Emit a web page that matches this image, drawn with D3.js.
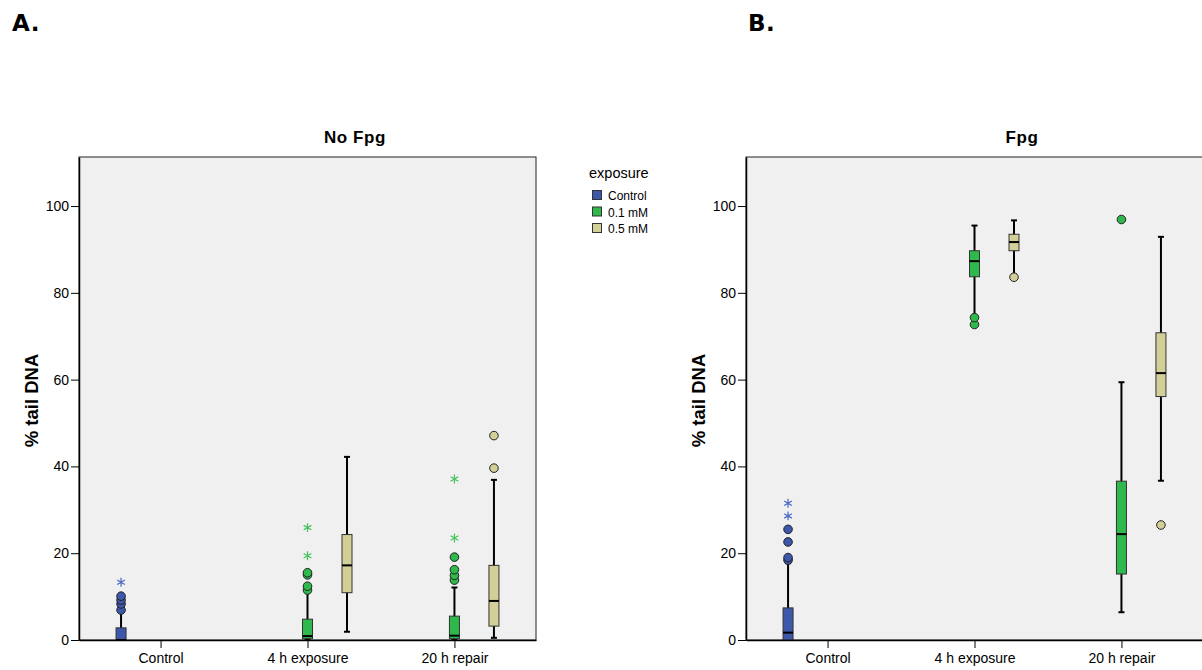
<!DOCTYPE html>
<html>
<head>
<meta charset="utf-8">
<script src="https://cdn.jsdelivr.net/npm/d3@7"></script>
<style>
  body { margin: 0; background: #fff; }
  svg { display: block; font-family: "Liberation Sans", Arial, sans-serif; }
  .tick text { font-size: 14px; fill: #000; }
</style>
</head>
<body>
<svg id="chart" width="1202" height="670"></svg>
<script>
const categories = ["Control", "4 h exposure", "20 h repair"];
const groups = ["Control", "0.1 mM", "0.5 mM"];
const groupColors = ["#3d58ab", "#2fb84b", "#d3cf99"];
const starColors = ["#4a67c4", "#44c25a", "#c9c58a"];
const yTicks = [0, 20, 40, 60, 80, 100];

// stats: [low whisker, Q1, median, Q3, high whisker]
const noFpgStats = [
  { cat: "Control", group: "Control", stats: [0, 0, 0, 2.8, 6.8] },
  { cat: "4 h exposure", group: "0.1 mM", stats: [0, 0.3, 0.9, 4.8, 11.2] },
  { cat: "4 h exposure", group: "0.5 mM", stats: [1.9, 10.9, 17.2, 24.3, 42.2] },
  { cat: "20 h repair", group: "0.1 mM", stats: [0, 0.3, 1.0, 5.5, 12.1] },
  { cat: "20 h repair", group: "0.5 mM", stats: [0.5, 3.2, 9.0, 17.2, 36.9] }
];
const noFpgOutliers = [
  { cat: "Control", group: "Control", values: [6.9, 8.3, 9.2, 10.1] },
  { cat: "4 h exposure", group: "0.1 mM", values: [11.5, 12.4, 15.0, 15.5] },
  { cat: "20 h repair", group: "0.1 mM", values: [13.8, 14.9, 16.2, 19.1] },
  { cat: "20 h repair", group: "0.5 mM", values: [39.6, 47.1] }
];
const noFpgExtremes = [
  { cat: "Control", group: "Control", values: [13.3] },
  { cat: "4 h exposure", group: "0.1 mM", values: [19.4, 25.9] },
  { cat: "20 h repair", group: "0.1 mM", values: [23.5, 37.1] }
];

const fpgStats = [
  { cat: "Control", group: "Control", stats: [0, 0, 1.7, 7.4, 17.7] },
  { cat: "4 h exposure", group: "0.1 mM", stats: [74.5, 83.7, 87.3, 89.7, 95.5] },
  { cat: "4 h exposure", group: "0.5 mM", stats: [84.2, 89.7, 91.7, 93.5, 96.7] },
  { cat: "20 h repair", group: "0.1 mM", stats: [6.4, 15.2, 24.4, 36.6, 59.4] },
  { cat: "20 h repair", group: "0.5 mM", stats: [36.7, 56.1, 61.5, 70.8, 92.9] }
];
const fpgOutliers = [
  { cat: "Control", group: "Control", values: [18.4, 19.0, 22.6, 25.5] },
  { cat: "4 h exposure", group: "0.1 mM", values: [72.7, 74.3] },
  { cat: "4 h exposure", group: "0.5 mM", values: [83.6] },
  { cat: "20 h repair", group: "0.1 mM", values: [96.9] },
  { cat: "20 h repair", group: "0.5 mM", values: [26.5] }
];
const fpgExtremes = [
  { cat: "Control", group: "Control", values: [28.6, 31.5] }
];

const svg = d3.select("#chart");
const plotW = 457, plotH = 483, plotTop = 157;
const star = d3.symbol().type(d3.symbolAsterisk).size(55);

function panel(left, letterX, letter, title, statsData, outlierData, extremeData) {
  const g = svg.append("g").attr("transform", "translate(" + left + "," + plotTop + ")");

  const x = d3.scalePoint().domain(categories).range([0, plotW]).padding(0.555);
  const xg = d3.scalePoint().domain(groups).range([-39.5, 39.5]);
  const y = d3.scaleLinear().domain([0, 111.3]).range([plotH, 0]);
  const cx = d => x(d.cat) + xg(d.group);
  const col = d => groupColors[groups.indexOf(d.group)];

  g.append("rect")
      .attr("width", plotW).attr("height", plotH)
      .attr("fill", "#f0f0f0")
      .attr("stroke", "#222").attr("stroke-width", 1);

  const boxes = g.selectAll(".box").data(statsData).enter().append("g").attr("class", "box");
  // whiskers
  boxes.append("line")
      .attr("x1", cx).attr("x2", cx)
      .attr("y1", d => y(d.stats[0])).attr("y2", d => y(d.stats[4]))
      .attr("stroke", "#000").attr("stroke-width", 2);
  boxes.filter(d => d.stats[0] < d.stats[1]).append("line")
      .attr("x1", d => cx(d) - 3).attr("x2", d => cx(d) + 3)
      .attr("y1", d => y(d.stats[0])).attr("y2", d => y(d.stats[0]))
      .attr("stroke", "#000").attr("stroke-width", 2);
  boxes.append("line")
      .attr("x1", d => cx(d) - 3).attr("x2", d => cx(d) + 3)
      .attr("y1", d => y(d.stats[4])).attr("y2", d => y(d.stats[4]))
      .attr("stroke", "#000").attr("stroke-width", 2);
  boxes.append("rect")
      .attr("x", d => cx(d) - 5).attr("width", 10)
      .attr("y", d => y(d.stats[3]))
      .attr("height", d => y(d.stats[1]) - y(d.stats[3]))
      .attr("fill", col)
      .attr("stroke", "#333").attr("stroke-width", 1);
  boxes.append("line")
      .attr("x1", d => cx(d) - 5).attr("x2", d => cx(d) + 5)
      .attr("y1", d => y(d.stats[2])).attr("y2", d => y(d.stats[2]))
      .attr("stroke", "#000").attr("stroke-width", 2);

  const outPts = outlierData.flatMap(d => d.values.map(v => ({ cat: d.cat, group: d.group, v })));
  g.selectAll(".outlier").data(outPts).enter().append("circle")
      .attr("class", "outlier")
      .attr("cx", cx).attr("cy", d => y(d.v)).attr("r", 4.3)
      .attr("fill", col)
      .attr("stroke", "#222").attr("stroke-width", 1);

  const extPts = extremeData.flatMap(d => d.values.map(v => ({ cat: d.cat, group: d.group, v })));
  g.selectAll(".extreme").data(extPts).enter().append("path")
      .attr("class", "extreme")
      .attr("transform", d => "translate(" + cx(d) + "," + y(d.v) + ")")
      .attr("d", star)
      .attr("fill", "none")
      .attr("stroke", d => starColors[groups.indexOf(d.group)])
      .attr("stroke-width", 1.2);

  const xa = g.append("g")
      .attr("transform", "translate(0," + plotH + ")")
      .call(d3.axisBottom(x).tickSize(8).tickPadding(5).tickSizeOuter(0))
      .call(a => a.select(".domain").attr("stroke", "#000").attr("stroke-width", 1.5));
  xa.selectAll(".tick line").attr("stroke", "#000");

  const ya = g.append("g")
      .call(d3.axisLeft(y).tickValues(yTicks).tickSize(8).tickPadding(2).tickSizeOuter(0))
      .call(a => a.select(".domain").attr("stroke", "#000").attr("stroke-width", 1.5));
  ya.selectAll(".tick line").attr("stroke", "#000");

  g.append("text")
      .attr("transform", "translate(-41," + (plotH / 2 + 2) + ") rotate(-90)")
      .attr("text-anchor", "middle")
      .style("font-size", "18.5px").style("font-weight", "bold")
      .text("% tail DNA");

  g.append("text")
      .attr("x", 276).attr("y", -14)
      .attr("text-anchor", "middle")
      .style("font-size", "17px").style("font-weight", "bold")
      .style("letter-spacing", "0.6px")
      .text(title);

  svg.append("text")
      .attr("x", letterX).attr("y", 31)
      .style("font-family", "'DejaVu Sans', sans-serif")
      .style("font-size", "23px").style("font-weight", "bold")
      .style("letter-spacing", "0.5px")
      .text(letter);
}

panel(79, 12, "A.", "No Fpg", noFpgStats, noFpgOutliers, noFpgExtremes);
panel(746, 748, "B.", "Fpg", fpgStats, fpgOutliers, fpgExtremes);

// legend
const legend = svg.append("g").attr("transform", "translate(589,0)");
legend.append("text").attr("x", 0).attr("y", 178)
    .style("font-size", "14.5px").text("exposure");
groups.forEach((gname, i) => {
  legend.append("rect")
      .attr("x", 3.5).attr("y", 190.5 + i * 16.5)
      .attr("width", 9).attr("height", 9)
      .attr("fill", groupColors[i])
      .attr("stroke", "#333").attr("stroke-width", 1);
  legend.append("text")
      .attr("x", 19).attr("y", 200 + i * 16.5)
      .style("font-size", "12px").text(gname);
});
</script>
</body>
</html>
